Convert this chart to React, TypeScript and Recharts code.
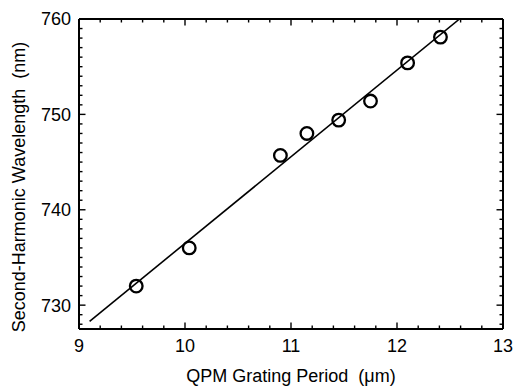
import React from 'react';
import { ScatterChart, Scatter, XAxis, YAxis, Label } from 'recharts';

// measured points
const periodUm = [9.54, 10.04, 10.9, 11.15, 11.45, 11.75, 12.1, 12.41];
const wavelengthNm = [732.0, 736.0, 745.7, 748.0, 749.4, 751.4, 755.4, 758.1];

// linear fit end points
const fitPeriod = [9.1, 12.59];
const fitWavelength = [728.3, 760];

const xMajor = [9, 10, 11, 12, 13];
const xTicks = [
  9, 9.2, 9.4, 9.6, 9.8, 10, 10.2, 10.4, 10.6, 10.8, 11, 11.2, 11.4, 11.6, 11.8,
  12, 12.2, 12.4, 12.6, 12.8, 13,
];
const yMajor = [730, 740, 750, 760];
const yTicks = [
  728, 729, 730, 731, 732, 733, 734, 735, 736, 737, 738, 739, 740, 741, 742, 743,
  744, 745, 746, 747, 748, 749, 750, 751, 752, 753, 754, 755, 756, 757, 758, 759, 760,
];

const xTitle = 'QPM Grating Period\u00a0\u00a0(\u03bcm)';
const yTitle = 'Second-Harmonic Wavelength\u00a0\u00a0(nm)';

const points = periodUm.map((p, i) => ({ x: p, y: wavelengthNm[i] }));
const fitLine = fitPeriod.map((p, i) => ({ x: p, y: fitWavelength[i] }));

const FONT = 'Liberation Sans, Arial, Helvetica, sans-serif';

const isMajor = (v: number, majors: number[]) => majors.some((m) => Math.abs(m - v) < 1e-6);

const makeTick = (side: 'bottom' | 'top' | 'left' | 'right', majors: number[], labels: boolean) =>
  (props: any) => {
    const { x, y, payload } = props;
    const v = payload.value;
    const major = isMajor(v, majors);
    const len = major ? 6.5 : 3.5;
    let line;
    if (side === 'bottom') line = <line x1={x} y1={y} x2={x} y2={y - len} />;
    else if (side === 'top') line = <line x1={x} y1={y} x2={x} y2={y + len} />;
    else if (side === 'left') line = <line x1={x} y1={y} x2={x + len} y2={y} />;
    else line = <line x1={x} y1={y} x2={x - len} y2={y} />;
    return (
      <g>
        <g stroke="#000" strokeWidth={1.4}>{line}</g>
        {labels && major && side === 'bottom' && (
          <text x={x} y={y + 23} textAnchor="middle" fontSize={18} fontFamily={FONT} fill="#000">
            {v}
          </text>
        )}
        {labels && major && side === 'left' && (
          <text x={x - 8} y={y} dy="0.36em" textAnchor="end" fontSize={18} fontFamily={FONT} fill="#000">
            {v}
          </text>
        )}
      </g>
    );
  };

const Circle = (props: any) => (
  <circle cx={props.cx} cy={props.cy} r={6.3} fill="none" stroke="#000" strokeWidth={2.3} />
);

const Nothing = () => <g />;

const axisLine = { stroke: '#000', strokeWidth: 2 };

export default function App() {
  return (
    <div style={{ position: 'absolute', left: 0, top: 0, background: '#fff' }}>
      <ScatterChart width={517} height={387} margin={{ top: 0, right: 0, bottom: 0, left: 0 }}>
        <XAxis
          xAxisId="bottom"
          type="number"
          dataKey="x"
          domain={[9, 13]}
          allowDataOverflow
          ticks={xTicks}
          interval={0}
          height={58}
          tickSize={0}
          tickMargin={0}
          tickLine={false}
          axisLine={axisLine}
          tick={makeTick('bottom', xMajor, true)}
        >
          <Label
            content={() => (
              <text x={291} y={382} textAnchor="middle" fontSize={18} fontFamily={FONT} fill="#000">
                {xTitle}
              </text>
            )}
          />
        </XAxis>
        <XAxis
          xAxisId="top"
          orientation="top"
          type="number"
          dataKey="x"
          domain={[9, 13]}
          allowDataOverflow
          ticks={xTicks}
          interval={0}
          height={19}
          tickSize={0}
          tickMargin={0}
          tickLine={false}
          axisLine={axisLine}
          tick={makeTick('top', xMajor, false)}
        />
        <YAxis
          yAxisId="left"
          type="number"
          dataKey="y"
          domain={[727.5, 760]}
          allowDataOverflow
          ticks={yTicks}
          interval={0}
          width={79}
          tickSize={0}
          tickMargin={0}
          tickLine={false}
          axisLine={axisLine}
          tick={makeTick('left', yMajor, true)}
        >
          <Label
            content={() => (
              <text
                x={25}
                y={187}
                transform="rotate(-90 25 187)"
                textAnchor="middle"
                fontSize={18}
                fontFamily={FONT}
                fill="#000"
              >
                {yTitle}
              </text>
            )}
          />
        </YAxis>
        <YAxis
          yAxisId="right"
          orientation="right"
          type="number"
          dataKey="y"
          domain={[727.5, 760]}
          allowDataOverflow
          ticks={yTicks}
          interval={0}
          width={14}
          tickSize={0}
          tickMargin={0}
          tickLine={false}
          axisLine={axisLine}
          tick={makeTick('right', yMajor, false)}
        />
        <Scatter
          data={fitLine}
          xAxisId="top"
          yAxisId="right"
          line={{ stroke: '#000', strokeWidth: 1.6 }}
          lineType="joint"
          shape={Nothing}
          isAnimationActive={false}
        />
        <Scatter
          data={points}
          xAxisId="bottom"
          yAxisId="left"
          shape={Circle}
          isAnimationActive={false}
        />
      </ScatterChart>
    </div>
  );
}
